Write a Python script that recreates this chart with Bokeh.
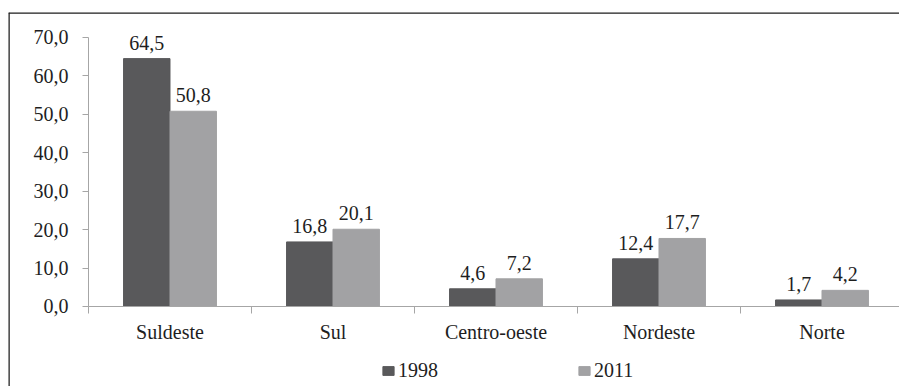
from bokeh.plotting import figure
from bokeh.models import Range1d, FixedTicker, Legend, LegendItem, ColumnDataSource, LabelSet, Span
from bokeh.embed import file_html
from bokeh.resources import INLINE

# Regional shares (%), 1998 vs 2011
regions = ["Suldeste", "Sul", "Centro-oeste", "Nordeste", "Norte"]
share_1998 = [64.5, 16.8, 4.6, 12.4, 1.7]
share_2011 = [50.8, 20.1, 7.2, 17.7, 4.2]
years = ["1998", "2011"]
y_ticks = [0, 10, 20, 30, 40, 50, 60, 70]

FONT = "Liberation Serif"
DARK = "#59595b"
LIGHT = "#a2a2a4"
AXIS = "#a6a6a6"
INK = "#1e1e1e"
FRAME = "#1c1c1c"


def pt_br(v):
    return f"{v:.1f}".replace(".", ",")


bar_w = 0.285
centers = [i + 0.5 for i in range(len(regions))]

src = ColumnDataSource(dict(
    x1=[c - bar_w / 2 for c in centers],
    x2=[c + bar_w / 2 for c in centers],
    v1=share_1998,
    v2=share_2011,
    t1=[pt_br(v) for v in share_1998],
    t2=[pt_br(v) for v in share_2011],
))

# The plot area fills the whole box; both axes are pinned at 0 inside it,
# so the tick labels and the legend sit in the margins of the data ranges.
x_range = Range1d(-0.4908, 4.9755)
y_range = Range1d(-20.82, 76.5)
p = figure(
    width=899, height=386,
    x_range=x_range, y_range=y_range,
    output_backend="svg", toolbar_location=None,
    min_border_left=8, min_border_right=0, min_border_top=12, min_border_bottom=0,
)
p.outline_line_color = None
p.xgrid.visible = False
p.ygrid.visible = False
p.background_fill_color = "white"
p.border_fill_color = "white"

# box edges on the left and at the top
p.add_layout(Span(location=x_range.start, dimension="height", line_color=FRAME, line_width=2.5))
p.add_layout(Span(location=y_range.end, dimension="width", line_color=FRAME, line_width=2.5))

r1 = p.vbar(x="x1", top="v1", width=bar_w, source=src, fill_color=DARK, line_color=DARK)
r2 = p.vbar(x="x2", top="v2", width=bar_w, source=src, fill_color=LIGHT, line_color=LIGHT)

for xc, yc, tc in (("x1", "v1", "t1"), ("x2", "v2", "t2")):
    p.add_layout(LabelSet(
        x=xc, y=yc, text=tc, source=src, y_offset=9,
        text_font=FONT, text_font_size="20px", text_color=INK,
        text_align="center", text_baseline="alphabetic",
    ))

# y axis at x = 0: 0,0 ... 70,0
ya = p.yaxis[0]
ya.fixed_location = 0
ya.bounds = (0, 70)
ya.ticker = FixedTicker(ticks=y_ticks)
ya.major_label_overrides = {t: pt_br(t) for t in y_ticks}
ya.axis_line_color = AXIS
ya.major_tick_line_color = AXIS
ya.major_tick_out = 6
ya.major_tick_in = 0
ya.minor_tick_line_color = None
ya.major_label_standoff = 14
ya.major_label_text_font = FONT
ya.major_label_text_font_size = "20px"
ya.major_label_text_color = INK

# x axis at y = 0: category names centred, tick marks on the category boundaries
xa = p.xaxis[0]
xa.fixed_location = 0
xa.bounds = (0, len(regions))
xa.ticker = FixedTicker(ticks=centers, minor_ticks=list(range(len(regions) + 1)))
xa.major_label_overrides = {c: r for c, r in zip(centers, regions)}
xa.axis_line_color = AXIS
xa.major_tick_line_color = None
xa.major_tick_out = 0
xa.major_tick_in = 0
xa.minor_tick_line_color = AXIS
xa.minor_tick_out = 7
xa.minor_tick_in = 0
xa.major_label_standoff = 8
xa.major_label_text_font = FONT
xa.major_label_text_font_size = "20px"
xa.major_label_text_color = INK

legend = Legend(
    items=[LegendItem(label=years[0], renderers=[r1]), LegendItem(label=years[1], renderers=[r2])],
    orientation="horizontal", location=(373, 4),
    glyph_width=14, glyph_height=11, label_standoff=3, spacing=139,
    padding=0, margin=0, border_line_color=None, background_fill_alpha=0,
    label_text_font=FONT, label_text_font_size="20px", label_text_color=INK,
)
p.add_layout(legend)

open("out.html", "w").write(file_html(p, INLINE))
